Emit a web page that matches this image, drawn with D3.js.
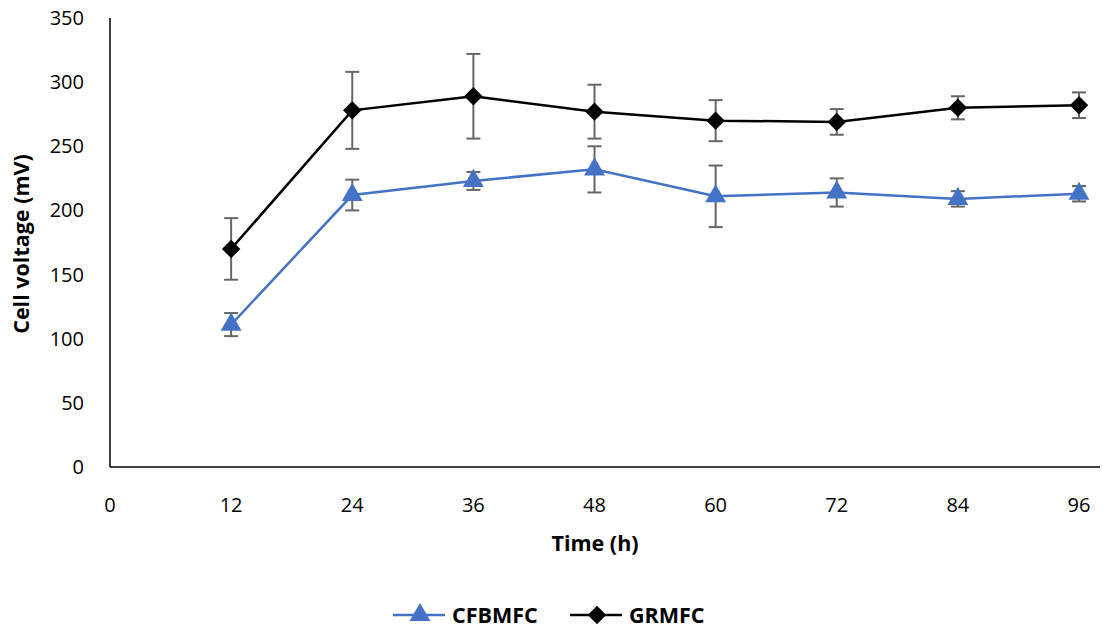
<!DOCTYPE html>
<html>
<head>
<meta charset="utf-8">
<script src="https://cdn.jsdelivr.net/npm/d3@7/dist/d3.min.js"></script>
<style>
  body { margin: 0; background: #fff; }
  svg text { font-family: "Open Sans", "Noto Sans", sans-serif; fill: #000; }
</style>
</head>
<body>
<svg id="chart" width="1102" height="632"></svg>
<script>
"use strict";

// data
var hours = [12, 24, 36, 48, 60, 72, 84, 96];
var cfbmfc = [111, 212, 223, 232, 211, 214, 209, 213];
var cfbmfcErr = [9, 12, 7, 18, 24, 11, 6, 6];
var grmfc = [170, 278, 289, 277, 270, 269, 280, 282];
var grmfcErr = [24, 30, 33, 21, 16, 10, 9, 10];
var xTicks = [0, 12, 24, 36, 48, 60, 72, 84, 96];
var yTicks = [0, 50, 100, 150, 200, 250, 300, 350];

var margin = { top: 18, left: 110, bottom: 165 };
var svgWidth = 1102, svgHeight = 632;
var plotRight = 1079;
var graphHeight = svgHeight - margin.top - margin.bottom;

var svg = d3.select("#chart");

var xRange = d3.scaleLinear().domain([0, 96]).range([margin.left, plotRight]);
var yRange = d3.scaleLinear().domain([0, 350]).range([margin.top + graphHeight, margin.top]);

// axes lines
svg.append("line")
  .attr("x1", margin.left).attr("x2", 1100)
  .attr("y1", yRange(0)).attr("y2", yRange(0))
  .attr("stroke", "#000").attr("stroke-width", 1.5);
svg.append("line")
  .attr("x1", margin.left).attr("x2", margin.left)
  .attr("y1", yRange(0)).attr("y2", yRange(350))
  .attr("stroke", "#000").attr("stroke-width", 1.5);

// tick labels
svg.selectAll(".ylab").data(yTicks).enter().append("text")
  .attr("class", "ylab")
  .attr("x", 84)
  .attr("y", function (d) { return yRange(d); })
  .attr("dy", "0.35em")
  .attr("text-anchor", "end")
  .style("font-size", "20px")
  .text(function (d) { return d; });

svg.selectAll(".xlab").data(xTicks).enter().append("text")
  .attr("class", "xlab")
  .attr("x", function (d) { return xRange(d); })
  .attr("y", 512)
  .attr("text-anchor", "middle")
  .style("font-size", "20px")
  .text(function (d) { return d; });

// axis titles
svg.append("text")
  .attr("x", 595).attr("y", 551)
  .attr("text-anchor", "middle")
  .style("font-size", "21.5px").style("font-weight", "bold")
  .text("Time (h)");
svg.append("text")
  .attr("transform", "translate(29,244) rotate(-90)")
  .attr("text-anchor", "middle")
  .style("font-size", "21.5px").style("font-weight", "bold")
  .text("Cell voltage (mV)");

var diamond = { draw: function (ctx, size) { d3.symbolSquare.draw(ctx, size); } };

function markerPath(kind) {
  if (kind === "diamond") return d3.symbol().type(d3.symbolSquare).size(170)();
  return d3.symbol().type(d3.symbolTriangle).size(190)();
}

function series(vals, errs, color, kind) {
  var pts = hours.map(function (h, i) { return { x: h, y: vals[i], e: errs[i] }; });
  var g = svg.append("g");

  g.append("path")
    .datum(pts)
    .attr("fill", "none")
    .attr("stroke", color)
    .attr("stroke-width", 2.5)
    .attr("d", d3.line()
      .x(function (d) { return xRange(d.x); })
      .y(function (d) { return yRange(d.y); }));

  var eb = g.selectAll(".eb").data(pts).enter().append("g").attr("class", "eb")
    .attr("stroke", "#666").attr("stroke-width", 2);
  eb.append("line")
    .attr("x1", function (d) { return xRange(d.x); })
    .attr("x2", function (d) { return xRange(d.x); })
    .attr("y1", function (d) { return yRange(d.y - d.e); })
    .attr("y2", function (d) { return yRange(d.y + d.e); });
  [1, -1].forEach(function (s) {
    eb.append("line")
      .attr("x1", function (d) { return xRange(d.x) - 7; })
      .attr("x2", function (d) { return xRange(d.x) + 7; })
      .attr("y1", function (d) { return yRange(d.y + s * d.e); })
      .attr("y2", function (d) { return yRange(d.y + s * d.e); });
  });

  g.selectAll(".mk").data(pts).enter().append("path")
    .attr("class", "mk")
    .attr("fill", color)
    .attr("transform", function (d) {
      return "translate(" + xRange(d.x) + "," + yRange(d.y) + ")" +
        (kind === "diamond" ? " rotate(45)" : "");
    })
    .attr("d", markerPath(kind));
}

series(cfbmfc, cfbmfcErr, "#4472C4", "triangle");
series(grmfc, grmfcErr, "#000", "diamond");

// legend
var legend = [
  { name: "CFBMFC", color: "#4472C4", kind: "triangle", x: 393 },
  { name: "GRMFC", color: "#000", kind: "diamond", x: 570 },
];
var lg = svg.selectAll(".lg").data(legend).enter().append("g")
  .attr("transform", function (d) { return "translate(" + d.x + ",615)"; });
lg.append("line")
  .attr("x1", 0).attr("x2", 52).attr("y1", 0).attr("y2", 0)
  .attr("stroke", function (d) { return d.color; }).attr("stroke-width", 2.5);
lg.append("path")
  .attr("transform", function (d) {
    return "translate(27,0)" + (d.kind === "diamond" ? " rotate(45)" : "");
  })
  .attr("fill", function (d) { return d.color; })
  .attr("d", function (d) { return markerPath(d.kind); });
lg.append("text")
  .attr("x", 59).attr("y", 0).attr("dy", "0.35em")
  .style("font-size", "21.5px").style("font-weight", "bold")
  .text(function (d) { return d.name; });
</script>
</body>
</html>
